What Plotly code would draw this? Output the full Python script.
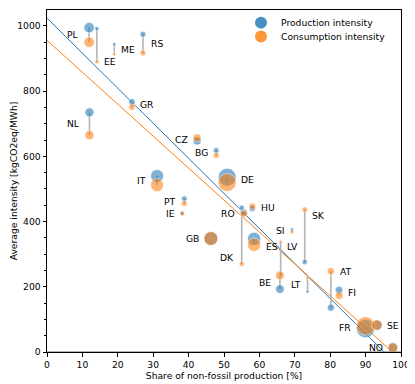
import plotly.graph_objects as go
import numpy as np

# ---------------- data ----------------
countries = ["PL", "EE", "ME", "RS", "GR", "NL", "CZ", "BG", "IT", "DE", "PT", "IE", "GB", "RO",
             "HU", "DK", "ES", "SK", "SI", "LV", "BE", "LT", "AT", "FI", "FR", "SE", "NO"]
non_fossil_share = [11.9, 14.1, 19.0, 27.1, 24.0, 12.0, 42.4, 47.8, 31.1, 50.9, 38.8, 38.2, 46.3, 55.6,
                    58.0, 55.0, 58.5, 72.8, 69.2, 66.0, 65.8, 73.6, 80.2, 82.5, 90.0, 93.2, 97.7]
production_intensity = [995, 992, 944, 975, 767, 735, 647, 618, 540, 536, 470, 426, 348, 428,
                        440, 443, 347, 276, 375, 237, 193, 185, 136, 190, 72, 82, 14]
consumption_intensity = [950, 890, 913, 917, 751, 665, 657, 603, 512, 520, 455, 424, 348, 424,
                         447, 270, 329, 437, 368, 338, 235, 228, 248, 173, 80, 83, 13]
production_twh = [165, 10, 3, 32, 45, 115, 80, 30, 280, 600, 30, 12, 330, 60,
                  42, 20, 300, 23, 5, 3, 100, 2, 60, 73, 650, 167, 140]

# linear trend fits (intercept, slope)
trend_production = (1024, -10.75)
trend_consumption = (956, -9.8)

# label placement (layout config)
label_side = {"PL": "l", "EE": "r", "ME": "r", "RS": "r", "GR": "r", "NL": "l", "CZ": "l", "BG": "l",
              "IT": "l", "DE": "r", "PT": "l", "IE": "l", "GB": "l", "RO": "l", "HU": "r", "DK": "l",
              "ES": "r", "SK": "r", "SI": "l", "LV": "r", "BE": "l", "LT": "l", "AT": "r", "FI": "r",
              "FR": "l", "SE": "r", "NO": "l"}
label_anchor_cons = {"EE": 0, "DK": -6, "ES": 2, "LV": 5, "SK": 6, "AT": 0}

BLUE = "rgba(31,119,180,0.82)"
ORANGE = "rgba(255,127,14,0.82)"
FONT = "DejaVu Sans"
FS = 9.2

sizes = [2.3 + 0.64 * np.sqrt(v) for v in production_twh]

fig = go.Figure()

# trend lines
xfit = np.array([0, 100])
for (b, m), col in [(trend_production, "#1f77b4"), (trend_consumption, "#ff7f0e")]:
    fig.add_trace(go.Scatter(x=xfit, y=b + m * xfit, mode="lines",
                             line=dict(color=col, width=1), showlegend=False, hoverinfo="skip"))

# connecting gray lines
lx, ly = [], []
for s, p, c in zip(non_fossil_share, production_intensity, consumption_intensity):
    lx += [s, s, None]
    ly += [p, c, None]
fig.add_trace(go.Scatter(x=lx, y=ly, mode="lines", line=dict(color="#b4b4b4", width=1.6),
                         showlegend=False, hoverinfo="skip"))

# markers
fig.add_trace(go.Scatter(x=non_fossil_share, y=production_intensity, mode="markers",
                         marker=dict(size=sizes, color=BLUE, line=dict(color="white", width=0.7)),
                         showlegend=False, text=countries))
fig.add_trace(go.Scatter(x=non_fossil_share, y=consumption_intensity, mode="markers",
                         marker=dict(size=sizes, color=ORANGE, line=dict(color="white", width=0.7)),
                         showlegend=False, text=countries))

# legend entries (two legends so spacing can match)
fig.add_trace(go.Scatter(x=[None], y=[None], mode="markers", name="Production intensity",
                         marker=dict(size=12, color=BLUE), legend="legend"))
fig.add_trace(go.Scatter(x=[None], y=[None], mode="markers", name="Consumption intensity",
                         marker=dict(size=12, color=ORANGE), legend="legend2"))

# labels
for name, s, p, c, d in zip(countries, non_fossil_share, production_intensity,
                            consumption_intensity, sizes):
    if name in label_anchor_cons:
        y = c
        dy = label_anchor_cons[name]
    else:
        y = (p + c) / 2
        dy = 0
    side = label_side[name]
    off = d / 2 + 3
    fig.add_annotation(x=s, y=y, text=name, showarrow=False,
                       xanchor="right" if side == "l" else "left",
                       xshift=-off if side == "l" else off, yshift=-dy,
                       font=dict(family=FONT, size=FS, color="black"))

# page body has an 8px default margin, so the figure is sized/placed to compensate
PLOT_H = 376 - 0 - 32
leg_common = dict(xanchor="left", yanchor="middle", bgcolor="rgba(0,0,0,0)",
                  font=dict(family=FONT, size=FS, color="black"), itemsizing="constant")
fig.update_layout(
    width=407, height=376,
    margin=dict(l=39, r=14, t=0, b=32, pad=0),
    paper_bgcolor="white", plot_bgcolor="white",
    font=dict(family=FONT, size=FS, color="black"),
    legend=dict(x=(241 - 47) / 354, y=(352 - 20.7) / PLOT_H, **leg_common),
    legend2=dict(x=(241 - 47) / 354, y=(352 - 34.7) / PLOT_H, **leg_common),
)
fig.update_xaxes(range=[0, 100], dtick=10, ticks="outside", ticklen=3.5, tickcolor="black",
                 showline=True, linecolor="black", linewidth=1, mirror=True, showgrid=False,
                 zeroline=False, automargin=False,
                 title=dict(text="Share of non-fossil production [%]", standoff=4,
                            font=dict(family=FONT, size=FS)))
fig.update_yaxes(range=[0, 1049], dtick=200, ticks="outside", ticklen=3.5, tickcolor="black",
                 minor=dict(dtick=50, ticks="outside", ticklen=2, tickcolor="black"),
                 showline=True, linecolor="black", linewidth=1, mirror=True, showgrid=False,
                 zeroline=False, automargin=False,
                 title=dict(text="Average intensity [kgCO2eq/MWh]", standoff=6,
                            font=dict(family=FONT, size=FS)))
fig.add_hline(y=0, line=dict(color="#999999", width=1.6))

fig.write_html("out.html")
